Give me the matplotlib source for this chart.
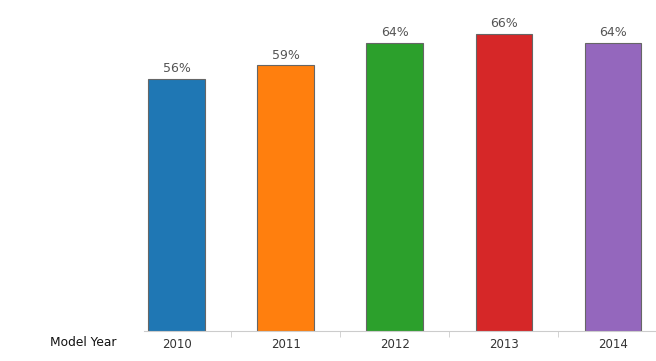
#!/usr/bin/env python3
# Bar chart: share by model year
import matplotlib
matplotlib.use('Agg')
import matplotlib.pyplot as plt
import matplotlib.ticker as ticker

years = ['2010', '2011', '2012', '2013', '2014']
share = [56, 59, 64, 66, 64]
colors = ['#1f77b4', '#ff7f0e', '#2ca02c', '#d62728', '#9467bd']

fig = plt.figure(figsize=(6.56, 3.61), dpi=100)
ax = fig.add_axes([0.2195, 0.0831, 0.7805, 0.9169])

x = range(len(years))
bars = ax.bar(x, share, width=0.52, color=colors, edgecolor='#666666',
              linewidth=0.8, zorder=2)
for b, v in zip(bars, share):
    ax.text(b.get_x() + b.get_width() / 2, v + 0.8, f'{v}%',
            ha='center', va='bottom', fontsize=9, color='#555555')

ax.set_xlim(-0.298, 4.394)
ax.set_ylim(0, 73.5)

for s in ax.spines.values():
    s.set_visible(False)
ax.spines['bottom'].set_visible(True)
ax.spines['bottom'].set_color('#cccccc')
ax.get_yaxis().set_visible(False)

ax.set_xticks(list(x))
ax.set_xticklabels(years, fontsize=8.5, color='#333333')
ax.tick_params(axis='x', which='major', length=0, pad=5)
ax.xaxis.set_minor_locator(ticker.FixedLocator([0.5, 1.5, 2.5, 3.5]))
ax.tick_params(axis='x', which='minor', length=4, color='#cccccc')

fig.text(50 / 656, 1 - 343 / 361, 'Model Year', fontsize=8.8, color='#111111',
         ha='left', va='center')

fig.savefig('out.png', dpi=100)
